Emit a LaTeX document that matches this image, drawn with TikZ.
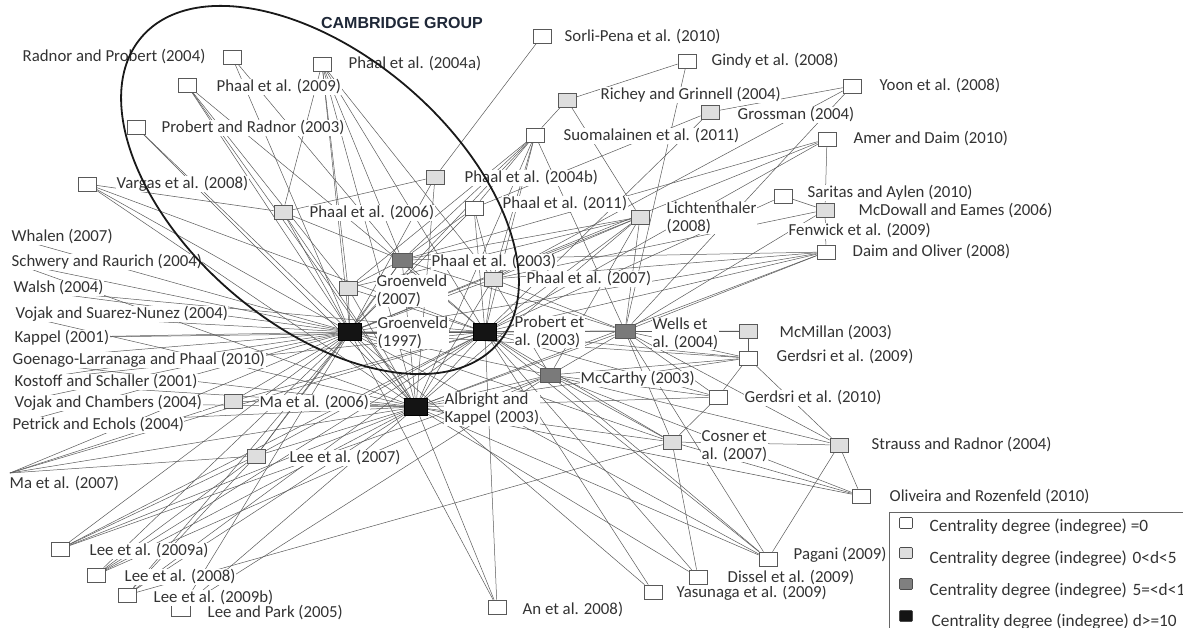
\documentclass[tikz,border=0pt]{standalone}
\usepackage{fontspec}
\setmainfont{Carlito}
\newfontfamily\titlefont{Liberation Sans}
\newfontfamily\legfont{Carlito}
\pgfdeclarelayer{back}
\pgfdeclarelayer{bg}
\pgfsetlayers{back,bg,main}
\definecolor{txt}{HTML}{333333}
\definecolor{edgec}{HTML}{5A5A5A}
\definecolor{title}{HTML}{1F2838}
\begin{document}
\begin{tikzpicture}[x=1pt,y=-1pt,
 sq/.style={rectangle,draw=black!65,line width=0.7pt,minimum width=18pt,minimum height=14pt,inner sep=0pt},
 wsq/.style={sq,fill=white},
 lsq/.style={sq,fill=black!13},
 dsq/.style={sq,fill=black!52,minimum width=20pt},
 bsq/.style={sq,fill=black!92,draw=black,minimum width=23pt,minimum height=17pt},
 lbl/.style={anchor=west,font=\fontsize{16.8}{18}\selectfont,text=txt,fill=white,inner sep=0.5pt},
 lbltwo/.style={lbl,align=left,font=\fontsize{16.8}{18}\selectfont},
 leglbl/.style={anchor=west,font=\legfont\fontsize{17.3}{18}\selectfont,text=txt,inner sep=0.5pt},
 ed/.style={draw=edgec,line width=0.5pt},
 legsq/.style={rectangle,draw=black!70,line width=0.6pt,minimum width=13pt,minimum height=11pt,inner sep=0pt,rounded corners=1pt}
]
\clip (0,0) rectangle (1183,628);
\begin{pgfonlayer}{back}
\fill[white] (0,0) rectangle (1183,628);
\end{pgfonlayer}

% ---------- squares ----------
\node[wsq] (r04) at (232,57) {};
\node[wsq] (p04a) at (322,64) {};
\node[wsq] (p09) at (187,85) {};
\node[wsq] (pr03) at (136,127) {};
\node[wsq] (var) at (87,184) {};
\node[lsq] (p06) at (283,212) {};
\node[wsq] (sor) at (542,36) {};
\node[wsq] (gin) at (687,61) {};
\node[lsq] (ric) at (567,100) {};
\node[lsq] (gro) at (710,112) {};
\node[wsq] (yoon) at (852,86) {};
\node[wsq] (suo) at (535,135) {};
\node[wsq] (amer) at (827,139) {};
\node[lsq] (p04b) at (435,177) {};
\node[wsq] (p11) at (474,208) {};
\node[lsq] (lich) at (640,217) {};
\node[wsq] (sar) at (783,196) {};
\node[lsq] (mcd) at (825,210) {};
\node[wsq] (dao) at (826,252) {};
\node[dsq] (p03) at (402,260) {};
\node[lsq] (g07) at (348,288) {};
\node[lsq] (p07) at (493,279) {};
\node[bsq] (g97) at (350,332) {};
\node[bsq] (pe03) at (485,332) {};
\node[dsq] (wel) at (625,331) {};
\node[lsq] (mcm) at (748,331) {};
\node[wsq] (ger09) at (748,358) {};
\node[dsq] (mcc) at (550,375) {};
\node[wsq] (ger10) at (718,397) {};
\node[bsq] (alb) at (416,407) {};
\node[lsq] (ma06) at (233,401) {};
\node[lsq] (cos) at (672,442) {};
\node[lsq] (str) at (839,445) {};
\node[lsq] (lee07) at (256,456) {};
\node[wsq] (oli) at (861,496) {};
\node[wsq] (lee09a) at (60,549) {};
\node[wsq] (lee08) at (96,575) {};
\node[wsq] (lee09b) at (127,595) {};
\node[sq,draw=none,fill=white] (lp) at (181,609) {};
\draw[black!65,line width=0.7pt] (lp.north west) -- (lp.south west) -- (lp.south east) -- (lp.north east);
\node[wsq] (an) at (497,607) {};
\node[wsq] (yas) at (653,592) {};
\node[wsq] (dis) at (698,577) {};
\node[wsq] (pag) at (768,559) {};
\coordinate (ma07p) at (10,473);

% ---------- labels ----------
\node[font=\titlefont\bfseries\fontsize{16}{18}\selectfont,text=title] (cam) at (402,23) {CAMBRIDGE GROUP};
\node[lbl] (r04l) at (22,57) {Radnor and Probert (2004)};
\node[lbl] (p04al) at (348,64) {Phaal et al. (2004a)};
\node[lbl] (p09l) at (216,87) {Phaal et al. (2009)};
\node[lbl] (pr03l) at (161,128) {Probert and Radnor (2003)};
\node[lbl] (varl) at (116,184) {Vargas et al. (2008)};
\node[lbl] (p06l) at (309,213) {Phaal et al. (2006)};
\node[lbl] (sorl) at (564,37) {Sorli-Pena et al. (2010)};
\node[lbl] (ginl) at (711,61) {Gindy et al. (2008)};
\node[lbl] (ricl) at (600,95) {Richey and Grinnell (2004)};
\node[lbl] (grol) at (737,115) {Grossman (2004)};
\node[lbl] (yoonl) at (879,86) {Yoon et al. (2008)};
\node[lbl] (suol) at (563,136) {Suomalainen et al. (2011)};
\node[lbl] (amerl) at (853,139) {Amer and Daim (2010)};
\node[lbl] (p04bl) at (464,178) {Phaal et al. (2004b)};
\node[lbl] (p11l) at (502,204) {Phaal et al. (2011)};
\node[lbltwo] (lichl) at (666,218) {Lichtenthaler\\(2008)};
\node[lbl] (sarl) at (807,193) {Saritas and Aylen (2010)};
\node[lbl] (mcdl) at (858,211) {McDowall and Eames (2006)};
\node[lbl] (fenl) at (788,231) {Fenwick et al. (2009)};
\node[lbl] (daol) at (852,252) {Daim and Oliver (2008)};
\node[lbl] (p03l) at (431,262) {Phaal et al. (2003)};
\node[lbltwo] (g07l) at (376,291) {Groenveld\\(2007)};
\node[lbl] (p07l) at (526,279) {Phaal et al. (2007)};
\node[lbltwo] (g97l) at (377,333) {Groenveld\\(1997)};
\node[lbltwo] (pe03l) at (514,332) {Probert et\\al. (2003)};
\node[lbltwo] (well) at (652,334) {Wells et\\al. (2004)};
\node[lbl] (mcml) at (779,333) {McMillan (2003)};
\node[lbl] (ger09l) at (776,357) {Gerdsri et al. (2009)};
\node[lbl] (mccl) at (580,379) {McCarthy (2003)};
\node[lbl] (ger10l) at (744,398) {Gerdsri et al. (2010)};
\node[lbltwo] (albl) at (444,409) {Albright and\\Kappel (2003)};
\node[lbl] (ma06l) at (259,403) {Ma et al. (2006)};
\node[lbltwo] (cosl) at (701,446) {Cosner et\\al. (2007)};
\node[lbl] (strl) at (871,445) {Strauss and Radnor (2004)};
\node[lbl] (lee07l) at (289,458) {Lee et al. (2007)};
\node[lbl] (olil) at (889,497) {Oliveira and Rozenfeld (2010)};
\node[lbl] (ma07l) at (9,484) {Ma et al. (2007)};
\node[lbl] (lee09al) at (89,551) {Lee et al. (2009a)};
\node[lbl] (lee08l) at (124,577) {Lee et al. (2008)};
\node[lbl] (lee09bl) at (153,598) {Lee et al. (2009b)};
\node[lbl] (lpl) at (207,613) {Lee and Park (2005)};
\node[lbl] (anl) at (522,610) {An et al. 2008)};
\node[lbl] (yasl) at (676,593) {Yasunaga et al. (2009)};
\node[lbl] (disl) at (727,578) {Dissel et al. (2009)};
\node[lbl] (pagl) at (793,555) {Pagani (2009)};
\node[lbl] (wha) at (11,237) {Whalen (2007)};
\node[lbl] (sch) at (11,262) {Schwery and Raurich (2004)};
\node[lbl] (wal) at (13,288) {Walsh (2004)};
\node[lbl] (vsn) at (15,314) {Vojak and Suarez-Nunez (2004)};
\node[lbl] (kap) at (14,338) {Kappel (2001)};
\node[lbl] (goe) at (12,360) {Goenago-Larranaga and Phaal (2010)};
\node[lbl] (kos) at (14,382) {Kostoff and Schaller (2001)};
\node[lbl] (vch) at (14,403) {Vojak and Chambers (2004)};
\node[lbl] (pet) at (12,425) {Petrick and Echols (2004)};

% ---------- edges ----------
\begin{pgfonlayer}{bg}
\foreach \a in {wha,sch,wal,vsn,kap,goe,kos,vch,pet} \draw[ed] (\a.west) -- (g97);
\foreach \a in {sch,vsn,goe,kos,vch,pet} \draw[ed] (\a.west) -- (alb);
\foreach \a in {wal,kap,kos} \draw[ed] (\a.west) -- (pe03);
\foreach \b in {g97,alb,lee07,ma06,pe03} \draw[ed] (ma07p) -- (\b);
\foreach \a/\b in {
 r04/p03, r04/g97,
 p04a/g97, p04a/p06, p04a/g07, p04a/p03, p04a/alb, p04a/pe03, p04a/p07,
 p09/g97, p09/alb, p09/pe03, p09/g07,
 pr03/g97, pr03/alb,
 var/p06, var/g97, var/alb, var/pe03,
 p06/g97, p06/alb, p06/p03,
 sor/p04b, p04b/g97, p04b/p06, p04b/alb,
 gin/ric, gin/wel, ric/suo, ric/lich,
 gro/p11, gro/pe03, yoon/gro, yoon/wel, yoon/p07,
 suo/g97, suo/p03, suo/g07, suo/p07, suo/pe03, suo/p11, suo/wel, suo/alb,
 amer/p03, amer/pe03, amer/mcd, amer/g97,
 sar/mcd, sar/pe03, mcd/dao, mcd/p07, mcd/wel,
 dao/p03, dao/p07, dao/pe03, dao/g97, dao/wel, dao/alb,
 p11/g97, p11/p03, p11/pe03, p11/p07,
 lich/p07, lich/wel, lich/mcc, lich/g97, lich/p03, lich/pe03, lich/alb, lich/g07,
 p03/g97, p03/g07, p03/pe03, p03/alb, p03/wel,
 g07/g97, g07/pe03, g07/alb,
 p07/pe03, p07/g97, p07/wel, p07/alb, p07/mcc,
 g97/alb, g97/pe03, g97/wel,
 pe03/alb, pe03/wel, pe03/mcc,
 wel/alb, wel/mcc, wel/ger09,
 mcm/ger09, mcm/wel, mcm/pe03,
 ger09/pe03, ger09/mcc, ger09/alb, ger09/ger10, ger09/g97,
 ger10/mcc, ger10/pe03, ger10/alb, ger10/wel,
 mcc/alb, mcc/g97,
 cos/alb, cos/pe03, cos/mcc, cos/g97, cos/dis, cos/wel, cos/ger10,
 str/oli, str/pag, str/cos, str/wel, str/mcc, str/ger09,
 oli/cos, oli/mcc, oli/alb,
 pag/alb, pag/pe03, pag/mcc, pag/g97, pag/wel,
 dis/alb, dis/pe03, yas/pe03, yas/g97,
 an/alb, an/pe03, an/g97,
 ma06/g97, ma06/alb, ma06/pe03,
 lee07/g97, lee07/alb, lee07/pe03, lee07/p03,
 lee09a/lee07, lee09a/g97, lee09a/alb, lee09a/pe03, lee09a/mcc,
 lee08/g97, lee08/alb, lee08/lee07, lee08/pe03, lee08/mcc,
 lee09b/g97, lee09b/alb, lee09b/pe03, lee09b/lee07, lee09b/cos,
 lp/alb, lp/g97, lp/mcc}
 \draw[ed] (\a) -- (\b);
\end{pgfonlayer}

% ---------- Cambridge group ellipse ----------
\draw[line width=1.8pt,black!90,rotate around={-40.6:(320,190)}] (320,190) ellipse [x radius=235pt, y radius=135pt];

% ---------- legend ----------
\fill[white] (889,512) rectangle (1200,640);
\draw[black!60,line width=0.7pt] (889,512) rectangle (1200,640);
\node[legsq,fill=white] (k1) at (906,523) {};
\node[legsq,fill=black!13] (k2) at (906,553) {};
\node[legsq,fill=black!50] (k3) at (906,584) {};
\node[legsq,fill=black!92] (k4) at (906,616) {};
\node[leglbl] (k1l) at (929,527) {Centrality degree (indegree) =0};
\node[leglbl] (k2l) at (929,559) {Centrality degree (indegree)\,\,0<d<5};
\node[leglbl] (k3l) at (929,591) {Centrality degree (indegree)\,\,5=<d<10};
\node[leglbl] (k4l) at (931,622) {Centrality degree (indegree) d>=10};
\end{tikzpicture}
\end{document}
